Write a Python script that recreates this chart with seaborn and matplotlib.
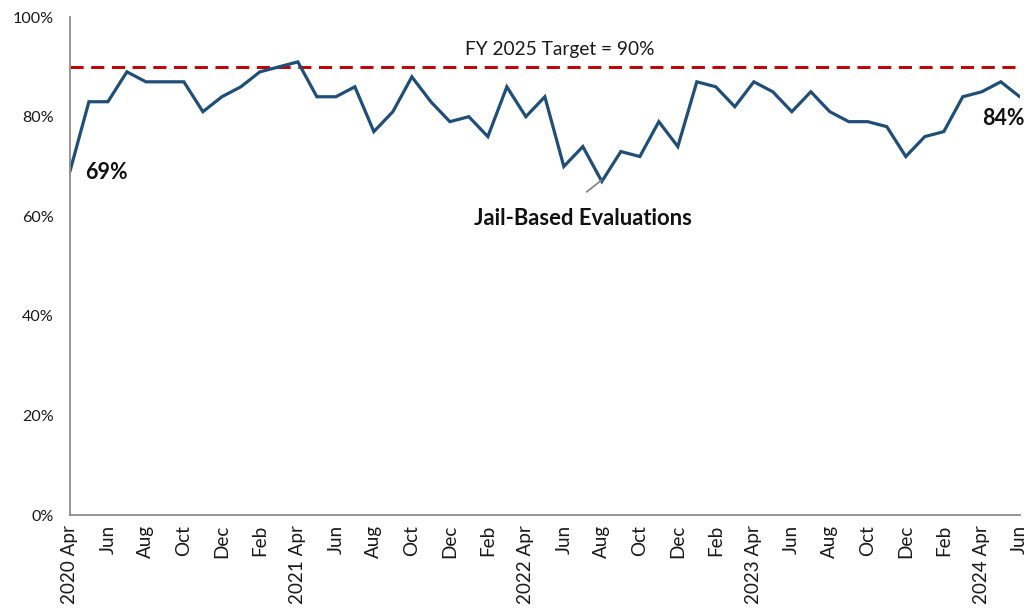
import matplotlib
matplotlib.use("Agg")
import matplotlib.pyplot as plt
import matplotlib.ticker as mticker
import seaborn as sns
import pandas as pd
import numpy as np

months = ["Apr", "May", "Jun", "Jul", "Aug", "Sep", "Oct", "Nov", "Dec",
          "Jan", "Feb", "Mar", "Apr", "May", "Jun", "Jul", "Aug", "Sep", "Oct", "Nov", "Dec",
          "Jan", "Feb", "Mar", "Apr", "May", "Jun", "Jul", "Aug", "Sep", "Oct", "Nov", "Dec",
          "Jan", "Feb", "Mar", "Apr", "May", "Jun", "Jul", "Aug", "Sep", "Oct", "Nov", "Dec",
          "Jan", "Feb", "Mar", "Apr", "May", "Jun"]
years = [2020] * 9 + [2021] * 12 + [2022] * 12 + [2023] * 12 + [2024] * 6
jail_pct = [69, 83, 83, 89, 87, 87, 87, 81, 84,
            86, 89, 90, 91, 84, 84, 86, 77, 81, 88, 83, 79,
            80, 76, 86, 80, 84, 70, 74, 67, 73, 72, 79, 74,
            87, 86, 82, 87, 85, 81, 85, 81, 79, 79, 78, 72,
            76, 77, 84, 85, 87, 84]
target = 90

df = pd.DataFrame({"idx": np.arange(len(jail_pct)), "pct": jail_pct,
                   "month": months, "year": years})

sns.set_style("white")
plt.rcParams["font.family"] = ["Lato", "DejaVu Sans"]

fig = plt.figure(figsize=(10.28, 6.09), dpi=100)
ax = fig.add_axes([0.068, 0.154, 0.924, 0.818])

sns.lineplot(data=df, x="idx", y="pct", ax=ax, color="#1F4E79", linewidth=2.3,
             solid_joinstyle="miter")
ax.axhline(target, color="#C00000", linewidth=2.1, linestyle=(0, (4.5, 2.6)), zorder=1)

ax.set_xlim(0, len(jail_pct) - 1)
ax.set_ylim(0, 100)
ax.set_xlabel("")
ax.set_ylabel("")

ax.yaxis.set_major_locator(mticker.MultipleLocator(20))
ax.yaxis.set_major_formatter(mticker.FuncFormatter(lambda v, p: f"{int(v)}%"))

labels = []
for i, (m, y) in enumerate(zip(months, years)):
    if m == "Apr":
        labels.append(f"{y} {m}")
    else:
        labels.append(m)
major_idx = [i for i in range(len(months)) if i % 2 == 0]
ax.set_xticks(major_idx)
ax.set_xticklabels([labels[i] for i in major_idx], rotation=90, va="top", ha="center")
ax.set_xticks(range(len(months)), minor=True)

for s in ["top", "right"]:
    ax.spines[s].set_visible(False)
for s in ["left", "bottom"]:
    ax.spines[s].set_color("#8C8C8C")
    ax.spines[s].set_linewidth(1.3)

ax.tick_params(axis="both", which="both", direction="out", color="#8C8C8C",
               width=1.0, labelcolor="#1a1a1a")
ax.tick_params(axis="x", which="both", length=5, pad=2, labelsize=13.6)
ax.tick_params(axis="y", which="major", length=5, pad=6.5, labelsize=11.6)

ax.text(25.8, 91.8, "FY 2025 Target = 90%", ha="center", va="bottom", fontsize=13.8,
        color="#1a1a1a")
ax.text(0.8, 68.8, "69%", ha="left", va="center", fontsize=15.5, fontweight="bold",
        color="#111111")
ax.text(50.25, 79.6, "84%", ha="right", va="center", fontsize=15.5, fontweight="bold",
        color="#111111")
ax.text(27.0, 59.6, "Jail-Based Evaluations", ha="center", va="center", fontsize=15.8,
        fontweight="bold", color="#111111")
ax.annotate("", xy=(28.0, 67.3), xytext=(27.2, 64.9),
            arrowprops=dict(arrowstyle="-", color="#808080", lw=1.2,
                            shrinkA=0, shrinkB=0))

fig.savefig("out.png", dpi=100)
